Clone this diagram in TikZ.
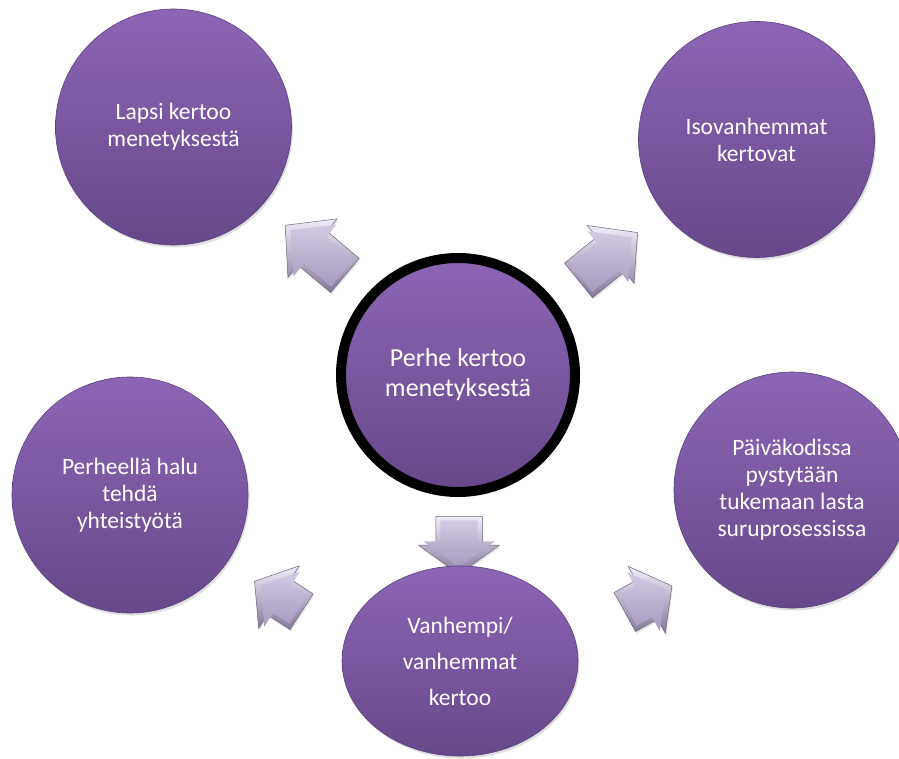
\documentclass[tikz,border=0pt]{standalone}
\usepackage{fontspec}
\setmainfont{Carlito}
\usetikzlibrary{shapes.geometric,shapes.arrows,shadows}
\definecolor{pTop}{RGB}{140,102,182}
\definecolor{pBot}{RGB}{102,72,138}
\definecolor{pEdge}{RGB}{92,64,126}
\definecolor{aLight}{RGB}{240,236,248}
\definecolor{aDark}{RGB}{132,120,152}
\definecolor{aEdge}{RGB}{110,100,128}
\definecolor{fTop}{RGB}{210,202,226}
\definecolor{fBot}{RGB}{166,154,188}
\newcommand{\blk}[7]{% name, center, angle, length, head width, shaft width, tip angle
  \node[arrO, minimum height=#4pt, single arrow head extend={(#5-#6)/2*1pt},
    single arrow tip angle=#7, rotate=#3] (#1) at (#2) {\rule{0pt}{#6pt}};
  \node[arrI, minimum height={(#4-11)*1pt}, single arrow head extend={(#5-#6)/2*1pt},
    single arrow tip angle=#7, rotate=#3] (#1i) at (#2) {\rule{0pt}{\dimexpr#6pt-9pt\relax}};
}
\begin{document}
\begin{tikzpicture}[x=1pt,y=-1pt,
  bub/.style={circle, minimum size=236pt, inner sep=0pt, top color=pTop, bottom color=pBot,
    draw=pEdge, line width=0.6pt, text=white, align=center,
    font=\fontsize{23.5}{27}\selectfont,
    drop shadow={opacity=0.25, shadow xshift=1.5pt, shadow yshift=-2.5pt}},
  arrO/.style={single arrow, inner sep=0pt, top color=aLight, bottom color=aDark,
    draw=aEdge, line width=0.5pt,
    drop shadow={opacity=0.2, shadow xshift=1pt, shadow yshift=-2pt}},
  arrI/.style={single arrow, inner sep=0pt, top color=fTop, bottom color=fBot, draw=none}
]
\fill[white] (0,0) rectangle (899,758);
\useasboundingbox (0,0) rectangle (899,758);
\clip (0,0) rectangle (899,758);

% arrows
\blk{a1}{323,257}{140}{78}{76}{44}{94}
\blk{a2}{600,263}{39}{76}{74}{44}{94}
\blk{a3}{459,537}{-90}{58}{80}{46}{108}
\blk{a4}{285,601}{147}{56}{74}{42}{104}
\blk{a5}{641,603}{29}{54}{76}{44}{106}

% circles
\node[bub] (tl) at (173.5,127) {Lapsi kertoo\\menetyksestä};
\node[bub] (tr) at (756.5,139.5) {Isovanhemmat\\kertovat};
\node[bub] (l) at (130,495) {Perheellä halu\\tehdä\\yhteistyötä};
\node[bub] (r) at (792,490) {Päiväkodissa\\pystytään\\tukemaan lasta\\suruprosessissa};
\node[bub, ellipse, minimum width=236pt, minimum height=190pt,
  font=\fontsize{23.5}{36}\selectfont] (b) at (460,661) {Vanhempi/\\vanhemmat\\kertoo};
\node[bub, minimum size=234pt, draw=black, line width=10pt,
  font=\fontsize{26}{30}\selectfont] (c) at (458,375) {Perhe kertoo\\menetyksestä};
\end{tikzpicture}
\end{document}
